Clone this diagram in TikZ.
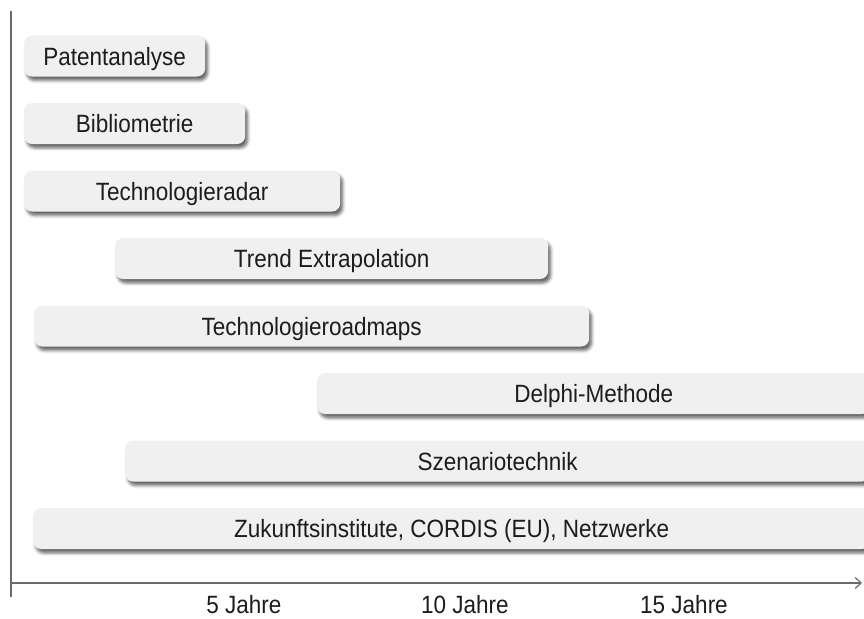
\documentclass[tikz,border=0pt]{standalone}
\usepackage{fontspec}
\setmainfont[FakeStretch=0.9]{Liberation Sans}
\usetikzlibrary{shadows.blur,arrows.meta}
\definecolor{barfill}{HTML}{F0F0F0}
\definecolor{axisgray}{HTML}{6A6A6A}
\definecolor{labeltext}{HTML}{1C1C1C}
\begin{document}
\begin{tikzpicture}[x=1pt,y=-1pt,
  labelfont/.style={font=\fontsize{25}{29}\selectfont, text=labeltext},
  bar/.style={labelfont, rounded corners=8pt, fill=barfill, draw=none,
    minimum height=41pt, inner sep=0pt, anchor=west, text depth=0pt,
    blur shadow={shadow xshift=2.5pt, shadow yshift=-4pt,
      shadow blur radius=3pt, shadow opacity=60}},
  axis/.style={draw=axisgray, line width=1.7pt},
  ticklabel/.style={labelfont, anchor=base}]
  \useasboundingbox (0,0) rectangle (864,618);

  % methods and their time horizons
  \node[bar, minimum width=181pt] (patent)   at (24,56)    {Patentanalyse};
  \node[bar, minimum width=221pt] (biblio)   at (24,123.5) {Bibliometrie};
  \node[bar, minimum width=316pt] (radar)    at (24,191)   {Technologieradar};
  \node[bar, minimum width=433pt] (trend)    at (115,258.5){Trend Extrapolation};
  \node[bar, minimum width=555pt] (roadmap)  at (34,326)   {Technologieroadmaps};
  \node[bar, minimum width=553pt] (delphi)   at (317,393.5){Delphi-Methode};
  \node[bar, minimum width=745pt] (szenario) at (125,461)  {Szenariotechnik};
  \node[bar, minimum width=837pt] (zukunft)  at (33,528.5) {Zukunftsinstitute, CORDIS (EU), Netzwerke};

  % axes
  \coordinate (ytop) at (11,11);
  \coordinate (ybot) at (11,597);
  \coordinate (xstart) at (11,583);
  \coordinate (xend) at (862,583);
  \draw[axis] (ytop) -- (ybot);
  \draw[axis, -{Straight Barb[length=6pt,width=11pt,line width=1.2pt]}] (xstart) -- (xend);

  % time axis labels
  \node[ticklabel] (t5)  at (244,613) {5 Jahre};
  \node[ticklabel] (t10) at (465,613) {10 Jahre};
  \node[ticklabel] (t15) at (684,613) {15 Jahre};
\end{tikzpicture}
\end{document}
